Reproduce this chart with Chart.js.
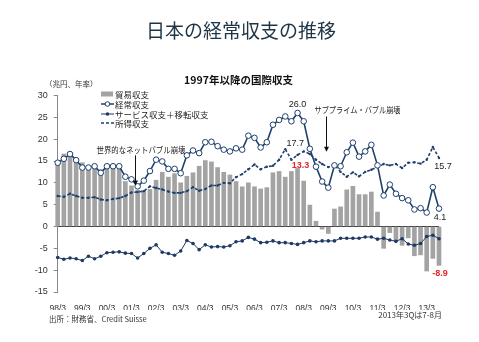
<!DOCTYPE html>
<html lang="ja">
<head>
<meta charset="utf-8">
<script src="https://cdn.jsdelivr.net/npm/chart.js@4.4.1/dist/chart.umd.min.js"></script>
<style>
  html, body { margin: 0; padding: 0; background: #fff; }
  body { width: 479px; height: 342px; position: relative; overflow: hidden; font-family: "Noto Sans CJK JP", "Liberation Sans", sans-serif; color: #222; }
  #chart { position: absolute; left: 0; top: 0; }
  .txt { position: absolute; white-space: nowrap; }
  #title { left: 146px; top: 19px; font-size: 19px; line-height: 22px; color: #1e3547; }
  #subtitle { left: 0; width: 477px; text-align: center; top: 73px; font-size: 10.5px; line-height: 13px; font-weight: bold; color: #111; }
  #unit { left: 45px; top: 79px; font-size: 7.5px; line-height: 10px; color: #333; }
  #source { left: 49px; top: 313px; font-size: 7.5px; line-height: 11px; color: #333; }
  #note { right: 37px; top: 309px; font-size: 8px; line-height: 11px; color: #333; }
  .leg { position: absolute; left: 101px; height: 10px; font-size: 8.5px; line-height: 10px; color: #222; }
  .leg svg { position: absolute; left: 0; top: 1px; }
  .leg span { position: absolute; left: 14px; top: 0; white-space: nowrap; }
</style>
</head>
<body>
<canvas id="chart" width="479" height="342"></canvas>
<div class="txt" id="title">日本の経常収支の推移</div>
<div class="txt" id="subtitle">1997年以降の国際収支</div>
<div class="txt" id="unit">（兆円、年率）</div>
<div class="txt" id="source">出所：財務省、Credit Suisse</div>
<div class="txt" id="note">2013年3Qは7-8月</div>

<div class="leg" style="top:89px"><svg width="13" height="8"><rect x="0" y="1.5" width="12" height="5" fill="#a3a3a3"/></svg><span>貿易収支</span></div>
<div class="leg" style="top:99px"><svg width="13" height="8"><line x1="0" y1="4" x2="13" y2="4" stroke="#1f3f6e" stroke-width="1.5"/><circle cx="6.5" cy="4" r="2.3" fill="#fff" stroke="#1f3f6e" stroke-width="1"/></svg><span>経常収支</span></div>
<div class="leg" style="top:108.5px"><svg width="13" height="8"><line x1="0" y1="4" x2="13" y2="4" stroke="#1f3864" stroke-width="1"/><circle cx="6.5" cy="4" r="1.8" fill="#1f3864"/></svg><span>サービス収支＋移転収支</span></div>
<div class="leg" style="top:118px"><svg width="13" height="8"><line x1="0" y1="4" x2="13" y2="4" stroke="#1f3f6e" stroke-width="1.5" stroke-dasharray="3 2"/></svg><span>所得収支</span></div>

<script>
// quarters, 1998Q1 .. 2013Q3 (label = year/month)
const quarters = [
  "98/3","98/6","98/9","98/12","99/3","99/6","99/9","99/12",
  "00/3","00/6","00/9","00/12","01/3","01/6","01/9","01/12",
  "02/3","02/6","02/9","02/12","03/3","03/6","03/9","03/12",
  "04/3","04/6","04/9","04/12","05/3","05/6","05/9","05/12",
  "06/3","06/6","06/9","06/12","07/3","07/6","07/9","07/12",
  "08/3","08/6","08/9","08/12","09/3","09/6","09/9","09/12",
  "10/3","10/6","10/9","10/12","11/3","11/6","11/9","11/12",
  "12/3","12/6","12/9","12/12","13/3","13/6","13/9"
];

// 貿易収支
const tradeBalance = [
  14.5, 16.6, 16.8, 15.5, 14.6, 13.9, 14.2, 13.0, 13.9, 13.6, 13.1, 10.3, 9.3, 8.3, 8.2, 8.5,
  10.6, 12.4, 11.3, 12.1, 10.0, 11.5, 12.3, 13.8, 15.1, 14.8, 13.5, 12.4, 11.8, 10.3, 9.1, 10.0,
  9.1, 8.6, 8.9, 12.3, 12.6, 11.3, 12.6, 13.3, 10.4, 4.9, 1.2, -0.6, -1.6, 4.0, 4.5, 8.4,
  9.2, 7.3, 7.3, 7.9, 3.3, -5.0, -1.4, -3.3, -4.3, -2.6, -6.7, -6.5, -10.2, -7.3, -8.9
];

// 経常収支
const currentAccount = [
  14.6, 15.5, 16.6, 15.2, 13.5, 13.5, 13.8, 12.3, 13.8, 13.8, 13.8, 11.4, 10.8, 9.2, 10.5, 12.7,
  15.3, 14.9, 13.2, 13.2, 12.2, 16.3, 17.4, 16.8, 19.3, 19.4, 18.4, 17.6, 17.2, 17.9, 17.6, 20.8,
  20.3, 18.1, 19.3, 23.3, 24.4, 25.2, 24.1, 26.0, 24.1, 17.8, 13.7, 10.3, 8.9, 14.0, 13.8, 17.0,
  19.2, 16.0, 17.2, 18.7, 14.0, 7.1, 9.6, 7.5, 6.5, 6.0, 3.9, 4.2, 3.2, 9.0, 4.1
];

// サービス収支＋移転収支
const servicesTransfers = [
  -7.1, -7.5, -7.2, -7.4, -7.8, -6.8, -7.4, -6.8, -6.0, -5.9, -5.8, -6.1, -6.2, -7.2, -6.2, -5.0,
  -4.2, -5.9, -6.2, -6.6, -5.6, -3.2, -3.9, -5.3, -4.2, -4.7, -4.6, -4.7, -4.4, -3.5, -3.3, -2.5,
  -2.9, -3.7, -3.6, -3.3, -3.7, -3.7, -3.9, -4.1, -3.7, -3.3, -3.5, -3.3, -3.3, -3.3, -2.7, -2.7,
  -2.7, -2.7, -2.4, -2.4, -2.9, -2.7, -3.1, -3.4, -2.8, -4.0, -4.3, -3.9, -2.3, -2.0, -2.8
];

// 所得収支
const incomeBalance = [
  7.0, 6.8, 7.5, 7.0, 6.6, 6.6, 6.7, 6.2, 6.0, 6.3, 6.5, 7.0, 7.8, 7.9, 8.1, 9.2,
  8.8, 8.5, 8.0, 7.7, 7.7, 8.1, 9.0, 8.2, 8.6, 9.4, 9.4, 10.0, 9.9, 11.3, 12.0, 13.1,
  14.2, 13.1, 13.7, 13.9, 15.3, 17.7, 15.3, 16.4, 17.2, 16.6, 15.3, 14.3, 13.6, 14.2, 12.5, 11.4,
  12.4, 11.5, 12.5, 13.0, 13.6, 14.3, 14.0, 14.3, 13.4, 14.6, 14.7, 14.4, 15.3, 18.2, 15.7
];

const yTicks = { min: -15, max: 30, step: 5 };

const NAVY = "#1f3f6e";
const latin = "'Liberation Sans', Arial, sans-serif";
const jp = "'Noto Sans CJK JP', sans-serif";

Chart.defaults.font.family = latin;

// value labels and event notes, placed in data coordinates
const valueNotes = [
  { text: "26.0", i: 39, v: currentAccount[39], dx: 0, dy: -8, color: "#222", bold: false },
  { text: "17.7", i: 37, v: incomeBalance[37], dx: 10, dy: -6, color: "#222", bold: false },
  { text: "13.3", i: 39, v: tradeBalance[39], dx: 3, dy: -3, color: "#e3262b", bold: true },
  { text: "15.7", i: 62, v: incomeBalance[62], dx: 4, dy: 9, color: "#222", bold: false },
  { text: "4.1", i: 62, v: currentAccount[62], dx: 1, dy: 9, color: "#222", bold: false },
  { text: "-8.9", i: 62, v: tradeBalance[62], dx: 1, dy: 8, color: "#e3262b", bold: true }
];
const eventNotes = [
  { text: "世界的なネットバブル崩壊", ti: 13.55, tv: 17.6, width: 89, ai: 12.57, top: 16.3, tip: 9.4 },
  { text: "サブプライム・バブル崩壊", ti: 48.75, tv: 26.7, width: 86, ai: 43.63, top: 25.2, tip: 17.1 }
];

const notesPlugin = {
  id: "notes",
  afterDatasetsDraw(chart) {
    const { ctx, scales: { x, y } } = chart;
    ctx.save();
    ctx.textAlign = "center";
    ctx.textBaseline = "middle";
    valueNotes.forEach(n => {
      ctx.font = (n.bold ? "bold " : "") + "9px " + latin;
      ctx.fillStyle = n.color;
      ctx.fillText(n.text, x.getPixelForValue(n.i) + n.dx, y.getPixelForValue(n.v) + n.dy);
    });
    eventNotes.forEach(n => {
      ctx.font = "8.5px " + jp;
      ctx.fillStyle = "#222";
      ctx.fillText(n.text, x.getPixelForValue(n.ti), y.getPixelForValue(n.tv), n.width);
      const ax = Math.round(x.getPixelForValue(n.ai)) + 0.5;
      const y0 = y.getPixelForValue(n.top);
      const y1 = y.getPixelForValue(n.tip);
      ctx.strokeStyle = "#111";
      ctx.lineWidth = 1;
      ctx.beginPath();
      ctx.moveTo(ax, y0);
      ctx.lineTo(ax, y1 - 4);
      ctx.stroke();
      ctx.fillStyle = "#111";
      ctx.beginPath();
      ctx.moveTo(ax - 2.5, y1 - 5);
      ctx.lineTo(ax + 2.5, y1 - 5);
      ctx.lineTo(ax, y1);
      ctx.closePath();
      ctx.fill();
    });
    ctx.restore();
  }
};

new Chart(document.getElementById("chart"), {
  data: {
    labels: quarters,
    datasets: [
      {
        type: "line",
        label: "経常収支",
        data: currentAccount,
        borderColor: NAVY,
        borderWidth: 1.6,
        pointRadius: 2.8,
        pointBackgroundColor: "#fff",
        pointBorderColor: NAVY,
        pointBorderWidth: 1,
        order: 1
      },
      {
        type: "line",
        label: "サービス収支＋移転収支",
        data: servicesTransfers,
        borderColor: "#1f3864",
        borderWidth: 1,
        pointRadius: 1.8,
        pointBackgroundColor: "#1f3864",
        pointBorderWidth: 0,
        order: 2
      },
      {
        type: "line",
        label: "所得収支",
        data: incomeBalance,
        borderColor: NAVY,
        borderWidth: 1.6,
        borderDash: [3, 2],
        pointRadius: 1.2,
        pointBackgroundColor: NAVY,
        pointBorderWidth: 0,
        order: 3
      },
      {
        type: "bar",
        label: "貿易収支",
        data: tradeBalance,
        backgroundColor: "#a3a3a3",
        barThickness: 4,
        clip: false,
        order: 4
      }
    ]
  },
  options: {
    responsive: false,
    animation: false,
    devicePixelRatio: 1,
    layout: { padding: { left: 17.7, right: 40, top: 95.5, bottom: 32 } },
    plugins: {
      legend: { display: false },
      tooltip: { enabled: false }
    },
    scales: {
      x: {
        offset: false,
        grid: { display: false },
        border: { display: false },
        ticks: {
          autoSkip: false,
          maxRotation: 0,
          padding: 4,
          color: "#333",
          font: { size: 8.5 },
          callback: (v, i) => quarters[i].endsWith("/3") ? quarters[i] : ""
        },
        afterFit: s => { s.height = 18; }
      },
      y: {
        min: yTicks.min,
        max: yTicks.max,
        ticks: { stepSize: yTicks.step, padding: 6, color: "#333", font: { size: 9 } },
        grid: {
          color: c => c.tick && c.tick.value === 0 ? "#333" : "rgba(0,0,0,0)",
          tickColor: "#888",
          tickLength: 4,
          lineWidth: 1
        },
        border: { color: "#888", width: 1 },
        afterFit: s => { s.width = 40; }
      }
    }
  },
  plugins: [notesPlugin]
});
</script>
</body>
</html>
